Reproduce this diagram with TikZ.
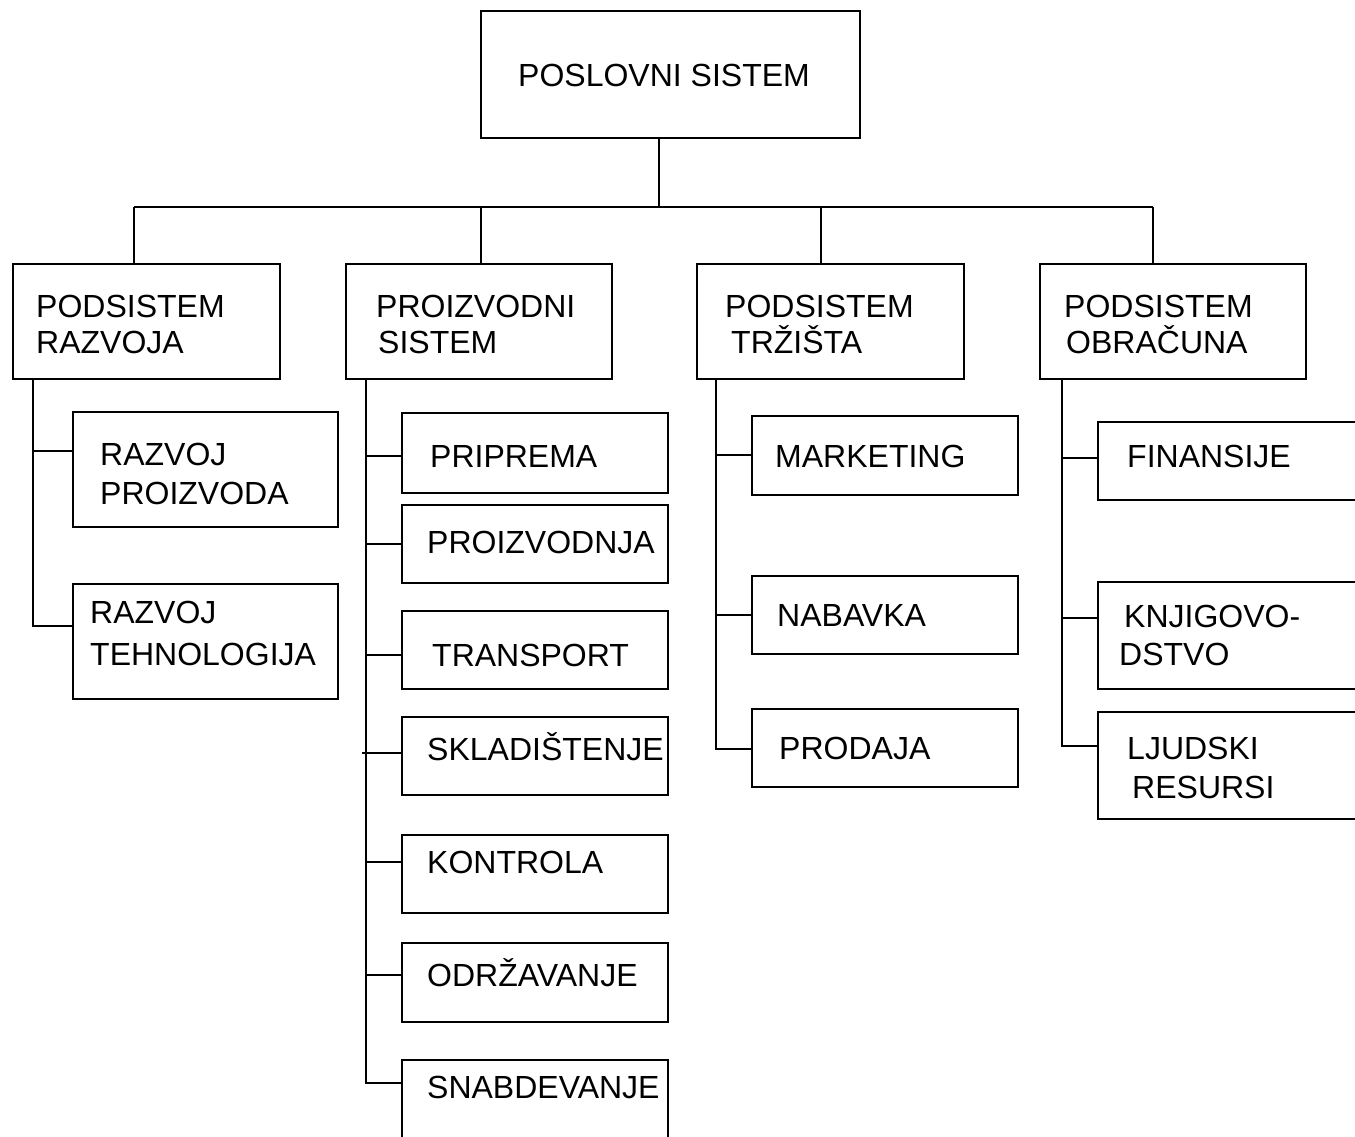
\documentclass[tikz,border=0pt]{standalone}
\usepackage{fontspec}
\setmainfont{Liberation Sans}
% box with its top-left and bottom-right corners: name, x1, y1, x2, y2
\newcommand\orgbox[5]{\node[box, minimum width={#4-#2}, minimum height={#5-#3}] (#1) at (#2,#3) {};}
\begin{document}
\begin{tikzpicture}[x=1pt,y=-1pt,
  box/.style={draw, line width=2pt, rectangle, anchor=north west, inner sep=0pt, outer sep=0pt},
  lbl/.style={anchor=base west, inner sep=0pt, font=\fontsize{32}{36}\selectfont},
  link/.style={line width=2pt}]
\clip (0,0) rectangle (1355,1136);
\fill[white] (0,0) rectangle (1355,1136);

% ---- top level
\orgbox{top}{481}{11}{860}{138}
\node[lbl] (tTop) at (518,86) {POSLOVNI SISTEM};

% ---- subsystems
\orgbox{A}{13}{264}{280}{379}
\orgbox{B}{346}{264}{612}{379}
\orgbox{C}{697}{264}{964}{379}
\orgbox{D}{1040}{264}{1306}{379}
\node[lbl] (tA1) at (36,317) {PODSISTEM};
\node[lbl] (tA2) at (36,353) {RAZVOJA};
\node[lbl] (tB1) at (376,317) {PROIZVODNI};
\node[lbl] (tB2) at (378,353) {SISTEM};
\node[lbl] (tC1) at (725,317) {PODSISTEM};
\node[lbl] (tC2) at (731,353) {TRŽIŠTA};
\node[lbl] (tD1) at (1064,317) {PODSISTEM};
\node[lbl] (tD2) at (1066,353) {OBRAČUNA};

% ---- tree from the top box to the subsystems
\coordinate (bus) at (659,207);
\draw[link] (top.south -| bus) -- (bus);
\draw[link] (134,207) -- (1153,207);
\draw[link] (A.north -| 134,0) -- (134,207);
\draw[link] (B.north -| 481,0) -- (481,207);
\draw[link] (C.north -| 821,0) -- (821,207);
\draw[link] (D.north -| 1153,0) -- (1153,207);

% ---- development
\orgbox{a1}{73}{412}{338}{527}
\orgbox{a2}{73}{584}{338}{699}
\node[lbl] (ta11) at (100,465) {RAZVOJ};
\node[lbl] (ta12) at (100,504) {PROIZVODA};
\node[lbl] (ta21) at (90,623) {RAZVOJ};
\node[lbl] (ta22) at (90,665) {TEHNOLOGIJA};
\draw[link] (A.south -| 33,0) |- (a2.west |- 0,626);
\draw[link] (33,451) -- (a1.west |- 0,451);

% ---- production
\orgbox{b1}{402}{413}{668}{493}
\orgbox{b2}{402}{505}{668}{583}
\orgbox{b3}{402}{611}{668}{689}
\orgbox{b4}{402}{717}{668}{795}
\orgbox{b5}{402}{835}{668}{913}
\orgbox{b6}{402}{943}{668}{1022}
\orgbox{b7}{402}{1060}{668}{1160}
\node[lbl] (tb1) at (430,467) {PRIPREMA};
\node[lbl] (tb2) at (427,553) {PROIZVODNJA};
\node[lbl] (tb3) at (432,666) {TRANSPORT};
\node[lbl] (tb4) at (427,760) {SKLADIŠTENJE};
\node[lbl] (tb5) at (427,873) {KONTROLA};
\node[lbl] (tb6) at (427,986) {ODRŽAVANJE};
\node[lbl] (tb7) at (427,1098) {SNABDEVANJE};
\draw[link] (B.south -| 366,0) |- (b7.west |- 0,1083);
\draw[link] (366,456) -- (b1.west |- 0,456);
\draw[link] (366,544) -- (b2.west |- 0,544);
\draw[link] (366,655) -- (b3.west |- 0,655);
\draw[link] (362,753) -- (b4.west |- 0,753);
\draw[link] (366,862) -- (b5.west |- 0,862);
\draw[link] (366,975) -- (b6.west |- 0,975);

% ---- market
\orgbox{c1}{752}{416}{1018}{495}
\orgbox{c2}{752}{576}{1018}{654}
\orgbox{c3}{752}{709}{1018}{787}
\node[lbl] (tc1) at (775,467) {MARKETING};
\node[lbl] (tc2) at (777,626) {NABAVKA};
\node[lbl] (tc3) at (779,759) {PRODAJA};
\draw[link] (C.south -| 716,0) |- (c3.west |- 0,749);
\draw[link] (716,455) -- (c1.west |- 0,455);
\draw[link] (716,615) -- (c2.west |- 0,615);

% ---- accounting
\orgbox{d1}{1098}{422}{1380}{500}
\orgbox{d2}{1098}{582}{1380}{689}
\orgbox{d3}{1098}{712}{1380}{819}
\node[lbl] (td1) at (1127,467) {FINANSIJE};
\node[lbl] (td21) at (1124,627) {KNJIGOVO-};
\node[lbl] (td22) at (1119,665) {DSTVO};
\node[lbl] (td31) at (1127,759) {LJUDSKI};
\node[lbl] (td32) at (1132,798) {RESURSI};
\draw[link] (D.south -| 1062,0) |- (d3.west |- 0,746);
\draw[link] (1062,458) -- (d1.west |- 0,458);
\draw[link] (1062,618) -- (d2.west |- 0,618);
\end{tikzpicture}
\end{document}
